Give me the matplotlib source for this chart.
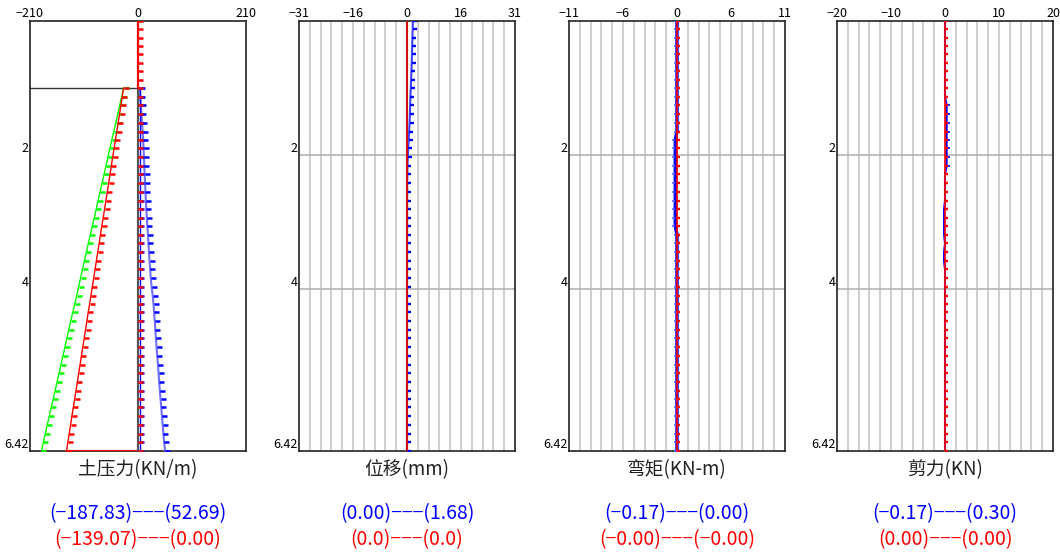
import matplotlib
matplotlib.use('Agg')
import matplotlib.pyplot as plt
import numpy as np
from matplotlib.markers import TICKRIGHT, TICKLEFT

# 节点深度 (m)
depth = [0, 0.125, 0.25, 0.375, 0.5, 0.625, 0.75, 0.875, 1.0,
         1.13, 1.26, 1.39, 1.52, 1.65, 1.77, 1.90, 2.03, 2.16, 2.29,
         2.42, 2.55, 2.68, 2.81, 2.94, 3.06, 3.19, 3.32, 3.45, 3.58,
         3.71, 3.84, 3.97, 4.10, 4.23, 4.35, 4.48, 4.61, 4.74, 4.87,
         5.00, 5.13, 5.26, 5.39, 5.52, 5.65, 5.77, 5.90, 6.03, 6.16,
         6.29, 6.42]
dig_depth = 1.0   # 开挖面

# 土压力 (开挖面以下的节点)
soil_red = [-28, -30.6, -33.3, -35.9, -38.6, -41.2, -43.9, -46.5, -49.2, -51.8,
            -54.4, -57.1, -59.7, -62.4, -65.0, -67.7, -70.3, -73.0, -75.6, -78.2,
            -80.9, -83.5, -86.2, -88.8, -91.5, -94.1, -96.8, -99.4, -102.0, -104.7,
            -107.3, -110.0, -112.6, -115.3, -117.9, -120.6, -123.2, -125.8, -128.5, -131.1,
            -133.8, -136.4, -139.07]
soil_green = [-28, -31.8, -35.6, -39.4, -43.2, -47.0, -50.8, -54.6, -58.4, -62.2,
              -66.1, -69.9, -73.7, -77.5, -81.3, -85.1, -88.9, -92.7, -96.5, -100.3,
              -104.1, -107.9, -111.7, -115.5, -119.3, -123.1, -126.9, -130.8, -134.6, -138.4,
              -142.2, -146.0, -149.8, -153.6, -157.4, -161.2, -165.0, -168.8, -172.6, -176.4,
              -180.2, -184.0, -187.83]
soil_blue = [3.0, 4.5, 5.5, 6.8, 7.9, 9.0, 10.0, 10.8, 11.5, 12.3,
             13.0, 13.8, 14.5, 15.3, 16.2, 17.2, 18.2, 19.4, 20.4, 21.3,
             22.4, 23.6, 24.9, 26.5, 28.6, 30.2, 31.4, 32.6, 33.7, 34.8,
             36.0, 37.4, 38.8, 40.0, 41.2, 42.5, 43.9, 45.2, 46.6, 47.9,
             49.3, 50.8, 52.69]
soil_blue_wall = [3.0] * 43

# 位移 (mm)
disp_blue = [1.68, 1.62, 1.56, 1.49, 1.42, 1.35, 1.27, 1.18, 1.08,
             0.98, 0.90, 0.82, 0.74, 0.62, 0.48, 0.34, 0.22, 0.14, 0.09,
             0.06, 0.05, 0.04, 0.03, 0.03, 0.03, 0.02, 0.02, 0.02, 0.02,
             0.02, 0.02, 0.01, 0.01, 0.01, 0.01, 0.01, 0.01, 0.01, 0.01,
             0.01, 0.01, 0.01, 0.01, 0.00, 0.00, 0.00, 0.00, 0.00, 0.00,
             0.00, 0.00]
disp_red = [0.0] * 51

# 弯矩 / 剪力
moment_blue = [0.0] * 14 + [-0.17] * 11 + [0.0] * 26
moment_red = [0.0] * 51
shear_blue = [0.0] * 10 + [0.30] * 8 + [0.0] * 4 + [-0.17] * 4 + [0.0] + [-0.17] * 2 + [0.0] * 22
shear_red = [0.0] * 51

titles = ['土压力(KN/m)', '位移(mm)', '弯矩(KN-m)', '剪力(KN)']
blue_text = ['(−187.83)−−−(52.69)', '(0.00)−−−(1.68)', '(−0.17)−−−(0.00)', '(−0.17)−−−(0.30)']
red_text = ['(−139.07)−−−(0.00)', '(0.0)−−−(0.0)', '(−0.00)−−−(−0.00)', '(0.00)−−−(0.00)']
x_limits = [210, 31, 11, 20]
x_ticks = [[-210, 0, 210], [-31, -15.5, 0, 15.5, 31], [-11, -5.5, 0, 5.5, 11], [-20, -10, 0, 10, 20]]
x_ticklabels = [['−210', '0', '210'], ['−31', '−16', '0', '16', '31'],
                ['−11', '−6', '0', '6', '11'], ['−20', '−10', '0', '10', '20']]

W, H = 1060, 557
lefts = [30, 299, 569, 837]
RED = '#ff0000'
BLUE = '#0000ff'
GREEN = '#00ff00'


def setup(ax, i):
    xm = x_limits[i]
    ax.set_xlim(-xm, xm)
    ax.set_ylim(6.42, 0)
    ax.xaxis.tick_top()
    ax.set_xticks(x_ticks[i], x_ticklabels[i])
    ax.set_yticks([2, 4, 6.42], ['2', '4', '6.42'])
    ax.tick_params(length=0, pad=1, labelsize=9)
    for t in ax.get_yticklabels():
        t.set_va('bottom')
    for s in ax.spines.values():
        s.set_color('#222222')
        s.set_linewidth(1.2)
    if i > 0:
        for v in np.linspace(-xm, xm, 21)[1:-1]:
            ax.axvline(v, color='#c8c8c8', lw=1.2, zorder=0)
        for d in [2, 4]:
            ax.axhline(d, color='#b4b4b4', lw=1.2, zorder=0)


def main():
    plt.rcParams['font.family'] = ['Noto Sans CJK SC', 'DejaVu Sans']
    fig = plt.figure(figsize=(W / 100, H / 100), dpi=100)
    axes = []
    for i, l in enumerate(lefts):
        ax = fig.add_axes([l / W, (H - 451) / H, 216 / W, 430 / H])
        setup(ax, i)
        axes.append(ax)

    below = depth[8:]
    tick = dict(marker=TICKRIGHT, markersize=3.4, markeredgewidth=1.8)

    # 图1 土压力
    ax = axes[0]
    ax.plot([-210, 0], [dig_depth, dig_depth], color='#333333', lw=1, zorder=2)
    ax.plot(soil_green, below, color=GREEN, lw=1, markeredgecolor=GREEN, zorder=3, **tick)
    ax.plot(soil_red, below, color=RED, lw=1, markeredgecolor=RED, zorder=4, **tick)
    ax.plot([soil_red[-1], 0], [6.42, 6.42], color=RED, lw=1.5, zorder=4)
    ax.plot(soil_blue, below, color='#7070ff', lw=1.5, marker=TICKRIGHT, markersize=3.6,
            markeredgewidth=1.8, markeredgecolor=BLUE, zorder=3)
    ax.plot(soil_blue_wall, below, color=BLUE, lw=1, marker=TICKRIGHT, markersize=3,
            markeredgewidth=1.8, markeredgecolor=BLUE, zorder=3)
    ax.plot([0, 0], [0, 6.42], color='#555555', lw=1.5, zorder=4)
    ax.plot([0, 0], [0, dig_depth], color=RED, lw=1.5, zorder=5)
    ax.plot([0] * len(depth), depth, ls='none', markeredgecolor=RED, zorder=6, **tick)

    # 图2 位移
    ax = axes[1]
    ax.plot(disp_blue, depth, color='#4040ff', lw=1.5, marker=TICKRIGHT, markersize=2.6,
            markeredgewidth=1.7, markeredgecolor=BLUE, zorder=3)
    ax.plot(disp_red, depth, color='#cc1010', lw=1.5, zorder=4)

    # 图3 弯矩
    ax = axes[2]
    ax.plot(moment_blue, depth, color=BLUE, lw=2.5, marker=TICKLEFT, markersize=2,
            markeredgewidth=1.2, markeredgecolor='#6060ff', zorder=3)
    ax.plot(moment_red, depth, color=RED, lw=1.2, marker=TICKRIGHT, markersize=1.9,
            markeredgewidth=1.7, markeredgecolor=RED, zorder=4)

    # 图4 剪力
    ax = axes[3]
    ax.plot(shear_blue, depth, color=BLUE, lw=1.5, marker=TICKRIGHT, markersize=2,
            markeredgewidth=1.2, markeredgecolor=BLUE, zorder=3)
    ax.plot(shear_red, depth, color=RED, lw=1.2, marker=TICKRIGHT, markersize=1.9,
            markeredgewidth=1.7, markeredgecolor=RED, zorder=4)

    for i, l in enumerate(lefts):
        cx = (l + 108) / W
        fig.text(cx, 1 - 470 / H, titles[i], ha='center', va='center', fontsize=13.5,
                 fontweight='light', color='#222222')
        fig.text(cx, 1 - 514 / H, blue_text[i], ha='center', va='center', fontsize=14,
                 fontweight='light', color=BLUE)
        fig.text(cx, 1 - 540 / H, red_text[i], ha='center', va='center', fontsize=14,
                 fontweight='light', color=RED)

    fig.savefig('out.png', dpi=100)


if __name__ == '__main__':
    main()
